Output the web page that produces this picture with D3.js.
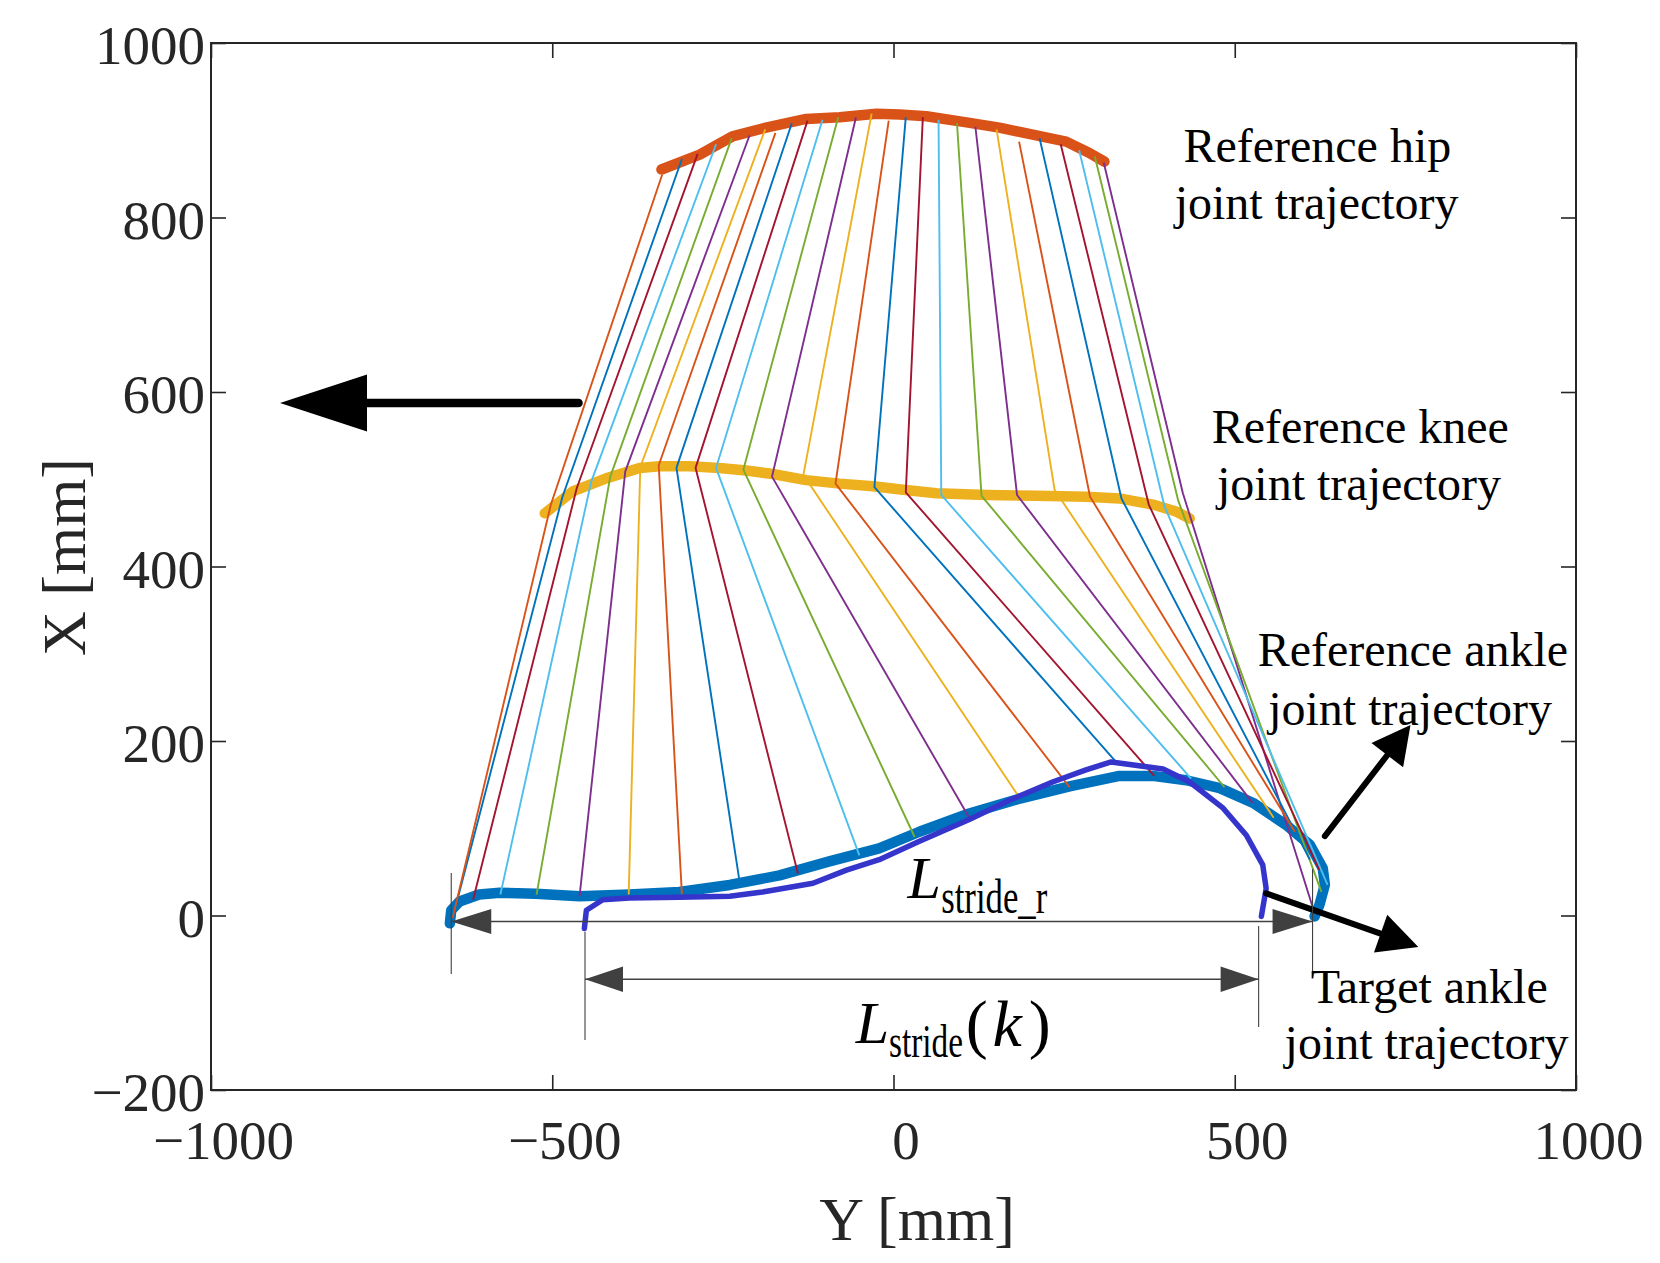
<!DOCTYPE html>
<html><head><meta charset="utf-8">
<script src="https://cdn.jsdelivr.net/npm/d3@7"></script>
<style>body{margin:0;background:#fff}</style>
</head><body>
<svg id="c" width="1660" height="1263"></svg>
<script>
// ---------- data ----------
const xTicks = [-1000, -500, 0, 500, 1000];
const yTicks = [-200, 0, 200, 400, 600, 800, 1000];
const xTickLabels = ["\u22121000", "\u2212500", "0", "500", "1000"];
const yTickLabels = ["\u2212200", "0", "200", "400", "600", "800", "1000"];

// stick figure frames (Y horizontal, X vertical), left to right
const hipY  = [-339,-310,-287,-260,-237,-211,-188,-173,-149,-126,-104,-81,-55,-32,-7,18,43,66,93,120,151,184,214,245,272,295,308];
const hipX  = [849,867,873,884,891,894,901,897,908,911,912,915,915,919,911,915,915,912,908,904,901,887,891,884,877,870,863];
const kneeY = [-502,-485,-464,-443,-415,-393,-371,-344,-318,-290,-260,-220,-178,-132,-85,-28,18,70,129,181,236,288,334,374,397,417,424];
const kneeX = [471,480,490,497,503,509,514,516,513,513,513,511,503,505,495,491,485,482,481,482,488,480,478,471,469,476,484];
const ankleY = [-646,-641,-616,-576,-523,-460,-388,-310,-226,-140,-50,31,111,182,258,326,382,436,485,526,557,588,610,624,636,627,614];
const ankleX = [-3,12,18,24,24,22,24,24,41,48,69,90,112,138,147,176,160,157,147,129,112,96,64,52,35,27,10];

// reference trajectories
const hipPathY = [-340,-284,-236,-187,-128,-79,-25,9,48,107,155,204,253,287,309];
const hipPathX = [855,872,893,903,913,915,919,918,916,909,903,895,887,874,864];
const kneePathY = [-511,-470,-421,-372,-343,-299,-255,-216,-177,-128,-79,-30,14,63,136,209,282,331,380,414,434];
const kneePathX = [461,486,501,513,515,515,513,510,506,499,495,492,488,484,482,481,480,478,471,463,455];
const refAnkleY = [-650,-648,-636,-607,-577,-524,-460,-387,-314,-240,-167,-94,-21,38,111,185,258,331,380,429,478,527,575,610,629,632,624,617];
const refAnkleX = [-9,6,16,24,26,25,22,24,27,35,46,62,77,96,117,134,148,160,160,155,146,129,104,81,54,35,12,-1];
// target ankle trajectory
const targetAnkleY = [-453,-450,-426,-387,-314,-240,-192,-118,-69,-21,38,111,170,233,282,319,395,434,483,517,541,546,539];
const targetAnkleX = [-15,6,18,20,21,22,27,37,52,64,85,110,132,153,167,176,168,153,123,92,58,31,-1];

// annotations (data coordinates)
const arrowLeft = [[-461.5, 587.4], [-898.9, 587.4]];
const arrowRefAnkle = [[632, 91], [757.5, 218.3]];
const arrowTarget = [[546, 25.4], [769, -36]];
const strideRefSpan = [-648, 614, -6.9];
const strideRefExtL = [-648, 48.7, -67];
const strideRefExtR = [614, 53.3, -64.8];
const strideKSpan = [-452, 535, -73.1];
const strideKExtL = [-452, -18.6, -142.7];
const strideKExtR = [535, -12, -127.8];
const annoText = [
  ["Reference hip", 621, 864], ["joint trajectory", 620, 798],
  ["Reference knee", 684, 542], ["joint trajectory", 682, 476],
  ["Reference ankle", 761, 286.4], ["joint trajectory", 757, 218.3],
  ["Target ankle", 785, -100.3], ["joint trajectory", 781, -164.5]
];

// ---------- style ----------
const stickPalette = ["#D95319","#0072BD","#A2142F","#4DBEEE","#77AC30","#7E2F8E","#EDB120"];
const serif = "'Liberation Serif','Times New Roman',Times,serif";
const axCol = "#262626";

const svg = d3.select("#c");
svg.append("rect").attr("width",1660).attr("height",1263).attr("fill","#fff");
const x = d3.scaleLinear().domain([-1000,1000]).range([211,1576]);
const y = d3.scaleLinear().domain([-200,1000]).range([1090,43]);

const line = d3.line().x(d=>x(d[0])).y(d=>y(d[1]));
const plot = svg.append("g");

function curve(Ys, Xs, col, w){
  plot.append("path").attr("d", line(d3.zip(Ys, Xs)))
    .attr("fill","none").attr("stroke",col).attr("stroke-width",w)
    .attr("stroke-linejoin","round").attr("stroke-linecap","round");
}
curve(refAnkleY, refAnkleX, "#0072BD", 10.5);
curve(hipPathY, hipPathX, "#D95319", 10.5);
curve(kneePathY, kneePathX, "#EDB120", 10.5);

// sticks (drawn right to left)
for (let i = hipY.length - 1; i >= 0; i--) {
  const pts = [[hipY[i],hipX[i]],[kneeY[i],kneeX[i]],[ankleY[i],ankleX[i]]];
  plot.append("path").attr("d", line(pts)).attr("fill","none")
    .attr("stroke", stickPalette[i % 7]).attr("stroke-width",1.9)
    .attr("stroke-linejoin","round");
}
curve(targetAnkleY, targetAnkleX, "#3535CC", 5.5);

// arrows
function arrow(t, h, sw, hl, hw, col){
  const x1=x(t[0]), y1=y(t[1]), x2=x(h[0]), y2=y(h[1]);
  const dx=x2-x1, dy=y2-y1, L=Math.hypot(dx,dy), ux=dx/L, uy=dy/L;
  const bx=x2-ux*hl, by=y2-uy*hl;
  plot.append("line").attr("x1",x1).attr("y1",y1).attr("x2",bx+ux*3).attr("y2",by+uy*3)
    .attr("stroke",col).attr("stroke-width",sw).attr("stroke-linecap","round");
  plot.append("path").attr("d",`M${x2},${y2}L${bx-uy*hw/2},${by+ux*hw/2}L${bx+uy*hw/2},${by-ux*hw/2}Z`)
    .attr("fill",col);
}
arrow(arrowLeft[0], arrowLeft[1], 8.5, 87, 57, "#000");
arrow(arrowRefAnkle[0], arrowRefAnkle[1], 6, 38, 40, "#000");
arrow(arrowTarget[0], arrowTarget[1], 6, 40, 40, "#000");

// dimension lines
const dimCol = "#404040";
function dim(span, hl, hh){
  const xa=x(span[0]), xb=x(span[1]), yy=y(span[2]);
  plot.append("line").attr("x1",xa).attr("x2",xb).attr("y1",yy).attr("y2",yy)
    .attr("stroke",dimCol).attr("stroke-width",1.6);
  plot.append("path").attr("d",`M${xa},${yy}L${xa+hl},${yy-hh}L${xa+hl},${yy+hh}Z`).attr("fill",dimCol);
  plot.append("path").attr("d",`M${xb},${yy}L${xb-hl},${yy-hh}L${xb-hl},${yy+hh}Z`).attr("fill",dimCol);
}
function ext(e){
  plot.append("line").attr("x1",x(e[0])).attr("x2",x(e[0])).attr("y1",y(e[1])).attr("y2",y(e[2]))
    .attr("stroke",dimCol).attr("stroke-width",1.1);
}
dim(strideRefSpan, 40, 12.5);
dim(strideKSpan, 38, 12.7);
[strideRefExtL, strideRefExtR, strideKExtL, strideKExtR].forEach(ext);

// stride labels: each label is one text element made of positioned tspans
function label(parts){
  const t = plot.append("text").attr("font-family",serif).attr("fill","#000");
  parts.forEach(p => {
    const s = t.append("tspan").attr("x",x(p[1])).attr("y",y(p[2])).attr("font-size",p[3]).text(p[0]);
    if (p[4]) s.attr("font-style","italic");
    if (p[5]) s.attr("textLength",p[5]).attr("lengthAdjust","spacingAndGlyphs");
  });
}
label([["L",20.5,19.7,60,true],["stride_r",69.9,2.5,48,false,106]]);
label([["L",-55.2,-146.5,60,true],["stride",-6.5,-161.7,46,false,74],
       ["(",106,-149.6,66],["k",145,-149.6,66,true],[")",198,-149.6,66]]);

function txt(s, Yv, Xv, size){
  return plot.append("text").attr("x",x(Yv)).attr("y",y(Xv)).text(s)
    .attr("font-family",serif).attr("font-size",size).attr("fill","#000").attr("text-anchor","middle");
}
annoText.forEach(a => txt(a[0], a[1], a[2], 48));

// axes box
svg.append("rect").attr("x",x(-1000)).attr("y",y(1000))
  .attr("width",x(1000)-x(-1000)).attr("height",y(-200)-y(1000))
  .attr("fill","none").attr("stroke",axCol).attr("stroke-width",2);

const gx = svg.append("g").attr("transform",`translate(0,${y(-200)})`)
  .call(d3.axisBottom(x).tickValues(xTicks).tickFormat((d,i)=>xTickLabels[i]).tickSizeInner(-15).tickSizeOuter(0).tickPadding(30));
const gxt = svg.append("g").attr("transform",`translate(0,${y(1000)})`)
  .call(d3.axisTop(x).tickValues(xTicks).tickFormat("").tickSizeInner(-15).tickSizeOuter(0));
const gy = svg.append("g").attr("transform",`translate(${x(-1000)},0)`)
  .call(d3.axisLeft(y).tickValues(yTicks).tickFormat((d,i)=>yTickLabels[i]).tickSizeInner(-15).tickSizeOuter(0).tickPadding(6));
const gyr = svg.append("g").attr("transform",`translate(${x(1000)},0)`)
  .call(d3.axisRight(y).tickValues(yTicks).tickFormat("").tickSizeInner(-15).tickSizeOuter(0));
[gx,gxt,gy,gyr].forEach(g=>{
  g.select(".domain").remove();
  g.selectAll(".tick line").attr("stroke",axCol).attr("stroke-width",1.6);
  g.selectAll("text").attr("font-family",serif).attr("font-size",55).attr("fill",axCol);
});
gx.selectAll("text").attr("x",12);
gy.selectAll("text").attr("dy","0.38em");

// axis labels
svg.append("text").attr("x",917).attr("y",1240).attr("text-anchor","middle")
  .attr("font-family",serif).attr("font-size",62).attr("fill",axCol).text("Y [mm]");
svg.append("text").attr("transform","translate(85,557) rotate(-90)").attr("text-anchor","middle")
  .attr("font-family",serif).attr("font-size",62).attr("fill",axCol).text("X [mm]");
</script>
</body></html>
